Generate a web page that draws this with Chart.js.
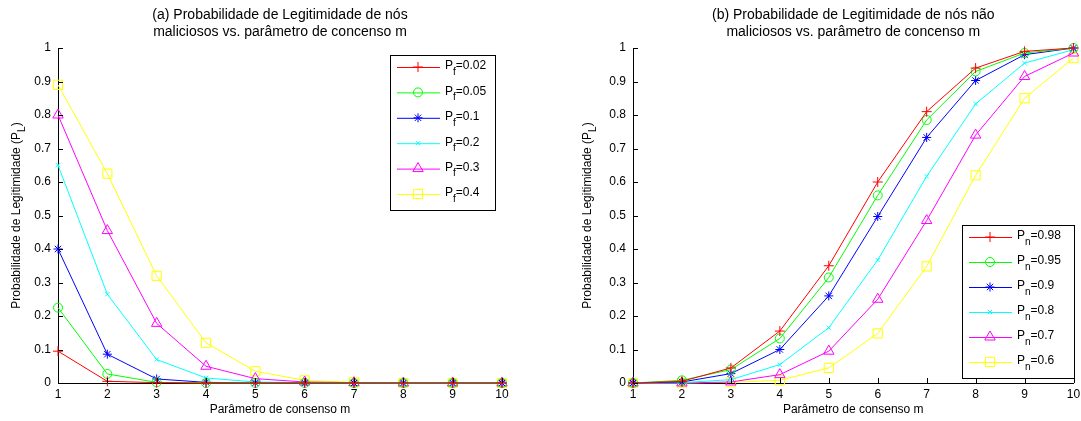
<!DOCTYPE html>
<html>
<head>
<meta charset="utf-8">
<script src="https://cdn.jsdelivr.net/npm/chart.js@4.4.0/dist/chart.umd.min.js"></script>
<style>
  body { margin: 0; background: #fff; width: 1081px; height: 421px; position: relative; overflow: hidden; }
  canvas { position: absolute; top: 0; }
  #chartA { left: 0; }
  #chartB { left: 540px; }
</style>
</head>
<body>
<canvas id="chartA" width="540" height="421"></canvas>
<canvas id="chartB" width="541" height="421"></canvas>
<script>
// ================= DATA =================
const mValues = [1, 2, 3, 4, 5, 6, 7, 8, 9, 10];

const pfNames = ['0.02', '0.05', '0.1', '0.2', '0.3', '0.4'];
const pf002 = [0.095, 0.005, 0.001, 0, 0, 0, 0, 0, 0, 0];
const pf005 = [0.225, 0.027, 0.002, 0, 0, 0, 0, 0, 0, 0];
const pf01  = [0.40, 0.086, 0.012, 0.002, 0, 0, 0, 0, 0, 0];
const pf02  = [0.65, 0.265, 0.07, 0.015, 0.003, 0.001, 0, 0, 0, 0];
const pf03  = [0.80, 0.455, 0.178, 0.05, 0.013, 0.003, 0.001, 0, 0, 0];
const pf04  = [0.89, 0.625, 0.32, 0.12, 0.035, 0.008, 0.002, 0, 0, 0];

const pnNames = ['0.98', '0.95', '0.9', '0.8', '0.7', '0.6'];
const pn098 = [0, 0.005, 0.045, 0.155, 0.35, 0.60, 0.81, 0.94, 0.99, 1.0];
const pn095 = [0, 0.008, 0.04, 0.133, 0.315, 0.56, 0.785, 0.93, 0.985, 1.0];
const pn09  = [0, 0.003, 0.028, 0.10, 0.26, 0.497, 0.733, 0.903, 0.98, 1.0];
const pn08  = [0, 0.001, 0.01, 0.055, 0.165, 0.367, 0.617, 0.833, 0.955, 0.995];
const pn07  = [0, 0, 0.003, 0.025, 0.095, 0.25, 0.485, 0.74, 0.915, 0.985];
const pn06  = [0, 0, 0.002, 0.008, 0.045, 0.148, 0.348, 0.62, 0.85, 0.97];

const colors  = ['#ff0000', '#00ff00', '#0000ff', '#00ffff', '#ff00ff', '#ffff00'];
const markers = ['cross', 'circle', 'star', 'crossRot', 'triangle', 'rect'];
const radii   = [5, 4.5, 4.5, 3, 6, 6.5];

const FONT = '"Liberation Sans", Arial, sans-serif';

// ================= PLUGIN: titles, inward ticks, legend =================
const matlabPlugin = {
    id: 'matlab',
    afterDraw(chart, args, opts) {
        const ctx = chart.ctx;
        const a = chart.chartArea;
        const xs = chart.scales.x, ys = chart.scales.y;
        ctx.save();

        // inward tick marks
        ctx.strokeStyle = '#000';
        ctx.lineWidth = 1;
        ctx.beginPath();
        xs.ticks.forEach(t => {
            const px = Math.round(xs.getPixelForValue(t.value)) + 0.5;
            ctx.moveTo(px, a.bottom);
            ctx.lineTo(px, a.bottom - 5);
        });
        ys.ticks.forEach(t => {
            const py = Math.round(ys.getPixelForValue(t.value)) + 0.5;
            ctx.moveTo(a.left, py);
            ctx.lineTo(a.left + 5, py);
        });
        ctx.stroke();

        // title
        ctx.fillStyle = '#000';
        ctx.font = '14px ' + FONT;
        ctx.textAlign = 'center';
        ctx.textBaseline = 'middle';
        const cx = (a.left + a.right) / 2;
        ctx.fillText(opts.title[0], cx, 15);
        ctx.fillText(opts.title[1], cx, 32);

        // x axis title
        ctx.font = '12px ' + FONT;
        ctx.fillText('Parâmetro de consenso m', cx, 410);

        // y axis title with subscript
        ctx.save();
        ctx.translate(opts.yTitleX, (a.top + a.bottom) / 2);
        ctx.rotate(-Math.PI / 2);
        const main = 'Probabilidade de Legitimidade (P';
        ctx.font = '12px ' + FONT;
        const w1 = ctx.measureText(main).width;
        ctx.font = '10px ' + FONT;
        const w2 = ctx.measureText('L').width;
        ctx.font = '12px ' + FONT;
        const w3 = ctx.measureText(')').width;
        let sx = -(w1 + w2 + w3) / 2;
        ctx.textAlign = 'left';
        ctx.fillText(main, sx, 0);
        ctx.font = '10px ' + FONT;
        ctx.fillText('L', sx + w1, 5);
        ctx.font = '12px ' + FONT;
        ctx.fillText(')', sx + w1 + w2, 0);
        ctx.restore();

        // legend
        const L = opts.legend;
        ctx.fillStyle = '#fff';
        ctx.fillRect(L.x, L.y, L.w, L.h);
        ctx.strokeStyle = '#000';
        ctx.strokeRect(L.x + 0.5, L.y + 0.5, L.w, L.h);
        chart.data.datasets.forEach((ds, i) => {
            const yy = L.y + 12 + i * L.step;
            ctx.strokeStyle = ds.borderColor;
            ctx.lineWidth = 1;
            ctx.beginPath();
            ctx.moveTo(L.x + 7, yy + 0.5);
            ctx.lineTo(L.x + 50, yy + 0.5);
            ctx.stroke();
            ctx.fillStyle = 'rgba(0,0,0,0)';
            Chart.helpers.drawPoint(ctx, {
                pointStyle: ds.pointStyle, radius: ds.pointRadius, rotation: 0, borderWidth: 1
            }, L.x + 28, yy);
            ctx.fillStyle = '#000';
            ctx.textAlign = 'left';
            ctx.textBaseline = 'middle';
            ctx.font = '12px ' + FONT;
            ctx.fillText('P', L.x + 55, yy - 1);
            const pw = ctx.measureText('P').width;
            ctx.font = '10px ' + FONT;
            ctx.fillText(L.sub, L.x + 55 + pw, yy + 5);
            const sw = ctx.measureText(L.sub).width;
            ctx.font = '12px ' + FONT;
            ctx.fillText('=' + L.names[i], L.x + 55 + pw + sw, yy - 1);
        });
        ctx.restore();
    }
};

function buildDatasets(series, names) {
    return series.map((vals, i) => ({
        label: names[i],
        data: mValues.map((m, j) => ({ x: m, y: vals[j] })),
        borderColor: colors[i],
        backgroundColor: 'rgba(0,0,0,0)',
        pointBackgroundColor: 'rgba(0,0,0,0)',
        pointBorderColor: colors[i],
        pointStyle: markers[i],
        pointRadius: radii[i],
        pointBorderWidth: 1,
        borderWidth: 1,
        tension: 0,
        clip: false
    }));
}

function makeChart(id, series, names, sub, title, yTitleX, plotLeft, padRight, legend) {
    return new Chart(document.getElementById(id), {
        type: 'line',
        data: { datasets: buildDatasets(series, names) },
        options: {
            responsive: false,
            animation: false,
            layout: { padding: { top: 48, right: padRight, bottom: 0, left: 0 } },
            plugins: {
                legend: { display: false },
                tooltip: { enabled: false },
                matlab: { title: title, yTitleX: yTitleX, legend: Object.assign({ names: names, sub: sub }, legend) }
            },
            scales: {
                x: {
                    type: 'linear', min: 1, max: 10,
                    grid: { display: false, drawTicks: false },
                    border: { display: true, color: '#000' },
                    ticks: { stepSize: 1, color: '#000', font: { family: FONT, size: 12 }, padding: 4, maxRotation: 0 },
                    afterFit(s) { s.height = 38; s.paddingLeft = 0; s.paddingRight = 0; }
                },
                y: {
                    min: 0, max: 1,
                    grid: { display: false, drawTicks: false },
                    border: { display: true, color: '#000' },
                    ticks: {
                        stepSize: 0.1, color: '#000', font: { family: FONT, size: 12 }, padding: 7,
                        callback: v => String(+v.toFixed(1))
                    },
                    afterFit(s) { s.width = plotLeft; s.paddingTop = 0; s.paddingBottom = 0; }
                }
            }
        },
        plugins: [matlabPlugin]
    });
}

makeChart('chartA',
    [pf002, pf005, pf01, pf02, pf03, pf04], pfNames, 'f',
    ['(a) Probabilidade de Legitimidade de nós', 'maliciosos vs. parâmetro de concenso m'],
    17, 58, 38,
    { x: 390, y: 55, w: 105, h: 155, step: 25.4 });

makeChart('chartB',
    [pn098, pn095, pn09, pn08, pn07, pn06], pnNames, 'n',
    ['(b) Probabilidade de Legitimidade de nós não', 'maliciosos vs. parâmetro de concenso m'],
    48, 93, 6,
    { x: 422, y: 225, w: 112, h: 153, step: 25 });
</script>
</body>
</html>
